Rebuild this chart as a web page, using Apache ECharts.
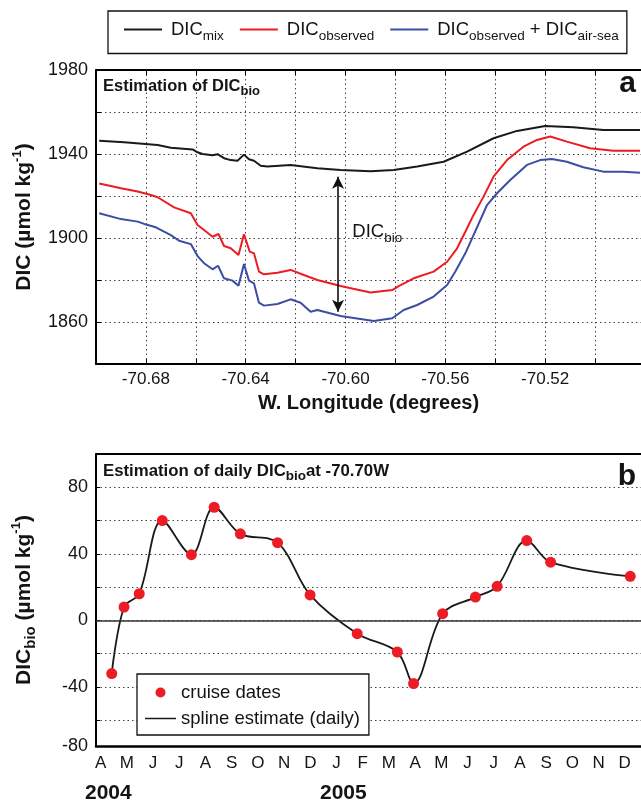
<!DOCTYPE html>
<html><head><meta charset="utf-8">
<script src="https://cdn.jsdelivr.net/npm/echarts@6/dist/echarts.min.js"></script>
<style>html,body{margin:0;padding:0;background:#fff}#c{width:641px;height:804px}</style>
</head><body><div id="c"></div>
<script>
const FONT = '"Liberation Sans", Arial, sans-serif';
const INK = '#141414';

// ---------- Panel a: DIC vs longitude ----------
const mixLon = [-70.6987,-70.6887,-70.6753,-70.670,-70.6613,-70.6593,-70.6573,-70.6533,-70.6513,-70.6487,-70.646,-70.6433,-70.6407,-70.6387,-70.6367,-70.634,-70.6313,-70.622,-70.6113,-70.602,-70.590,-70.5807,-70.5713,-70.5607,-70.5513,-70.5407,-70.5313,-70.520,-70.5087,-70.4967,-70.482];
const mixVal = [1946.3,1945.6,1944.3,1943.0,1942.2,1940.8,1940.0,1939.4,1939.9,1938.0,1937.1,1936.8,1939.7,1937.5,1936.8,1934.4,1934.0,1934.8,1933.2,1932.4,1931.8,1932.4,1934.0,1936.3,1941.1,1947.5,1951.0,1953.3,1952.7,1951.4,1951.4];

const obsLon = [-70.6987,-70.690,-70.6833,-70.678,-70.6753,-70.6687,-70.662,-70.6593,-70.6567,-70.6533,-70.6509,-70.6487,-70.646,-70.6429,-70.6407,-70.6384,-70.6367,-70.6347,-70.6327,-70.6273,-70.622,-70.6167,-70.6113,-70.602,-70.590,-70.5813,-70.5787,-70.5727,-70.5647,-70.5593,-70.5553,-70.552,-70.5487,-70.5447,-70.5407,-70.5353,-70.5287,-70.5233,-70.518,-70.5113,-70.502,-70.4927,-70.482];
const obsVal = [1926.0,1923.7,1922.1,1920.5,1919.4,1914.6,1911.8,1906.2,1903.8,1900.6,1901.9,1896.2,1895.1,1891.9,1901.8,1893.5,1892.7,1884.0,1882.7,1883.5,1884.8,1882.4,1880.0,1877.1,1874.0,1875.2,1877.1,1880.8,1884.0,1888.7,1895.1,1903.0,1911.0,1919.7,1929.2,1937.1,1943.5,1946.7,1948.3,1945.9,1942.7,1941.6,1941.6];

const airLon = [-70.6987,-70.690,-70.6833,-70.6807,-70.676,-70.670,-70.6667,-70.662,-70.6593,-70.6567,-70.6533,-70.6511,-70.6487,-70.6453,-70.6429,-70.6407,-70.6387,-70.6367,-70.6347,-70.6327,-70.6273,-70.622,-70.618,-70.614,-70.6113,-70.602,-70.5887,-70.5813,-70.5767,-70.5713,-70.5647,-70.5593,-70.556,-70.552,-70.5487,-70.5433,-70.5393,-70.534,-70.5273,-70.522,-70.5173,-70.5113,-70.5047,-70.4967,-70.4887,-70.482];
const airVal = [1911.8,1909.0,1907.8,1906.7,1905.1,1901.4,1898.7,1897.1,1891.4,1888.0,1885.1,1886.8,1880.8,1879.7,1877.3,1887.6,1879.7,1878.4,1869.2,1867.8,1868.6,1870.8,1869.2,1864.9,1865.7,1862.9,1860.5,1861.8,1865.7,1868.1,1872.1,1877.6,1884.0,1892.7,1901.4,1915.7,1921.3,1927.6,1934.8,1937.1,1937.6,1936.3,1933.7,1931.6,1931.6,1931.1];

const arrowLon = -70.603;
const arrowEnds = [1929.2, 1864.9];
const bioLabelPos = [-70.5975, 1903];

// ---------- Panel b: daily DIC_bio at -70.70W ----------
// x = months since Jan 2004 (0 = Jan 2004)
const cruiseMonth = [3.42,3.89,4.47,5.35,6.46,7.33,8.33,9.75,10.99,12.79,14.32,14.94,16.05,17.30,18.13,19.26,20.17,23.21];
const cruiseDIC   = [-32,8,16,60,39.5,68,52,46.7,15.3,-8,-19,-38,4,14,20.5,48,35,26.5];
const monthLetters = ['J','F','M','A','M','J','J','A','S','O','N','D'];
const monthTicks = [3,4,5,6,7,8,9,10,11,12,13,14,15,16,17,18,19,20,21,22,23];
const yearLabels = ['2004','2005'];
const yearPos = [3.29, 12.26];
// panel b y axis: gridlines every 20; the bottom frame edge is labelled "-80" in the original
const bYMin = -75.5, bYMax = 100;
const bGridTicks = [-60,-40,-20,0,20,40,60,80];
const bLabelTicks = [bYMin,-40,0,40,80];

const zip = (a, b) => a.map((v, i) => [v, b[i]]);

const dotted = {type: [1.5, 3], color: '#444', width: 1};
const subStyle = (fs, bold) => ({fontSize: fs, fontWeight: bold ? 'bold' : 'normal', fontFamily: FONT, color: INK, verticalAlign: 'bottom', lineHeight: fs});
const LINE_ICON_31x10 = 'path://M0,0L0.01,0L0.01,0.01Z M0,4.3L31,4.3L31,5.7L0,5.7Z M30.99,10L31,10L31,9.99Z';

const chart = echarts.init(document.getElementById('c'));
chart.setOption({
  animation: false,
  backgroundColor: '#fff',
  textStyle: {fontFamily: FONT, color: INK},
  grid: [
    {left: 96, top: 70, height: 294, right: 0},
    {left: 96, top: 454, height: 294, right: 0}
  ],
  legend: [
    {
      data: [
        {name: 'DICmix', icon: 'rect'},
        {name: 'DICobserved', icon: 'rect'},
        {name: 'DICairsea', icon: 'rect'}
      ],
      left: 108, top: 11,
      padding: [9, 8, 10, 16],
      itemWidth: 38, itemHeight: 2, itemGap: 16,
      borderColor: '#111', borderWidth: 1.3, borderRadius: 0,
      selectedMode: false,
      formatter: n => ({
        DICmix: '{f|DIC}{s|mix}',
        DICobserved: '{f|DIC}{s|observed}',
        DICairsea: '{f|DIC}{s|observed}{m| + DIC}{s|air-sea}'
      })[n],
      textStyle: {
        rich: {
          f: {fontSize: 18.5, fontFamily: FONT, color: INK, lineHeight: 28, verticalAlign: 'middle', padding: [0, 0, 0, 4]},
          m: {fontSize: 18.5, fontFamily: FONT, color: INK, lineHeight: 28, verticalAlign: 'middle'},
          s: subStyle(13.5, false)
        }
      }
    },
    {
      data: [{name: 'cruise dates', icon: 'circle'}, {name: 'spline estimate (daily)', icon: LINE_ICON_31x10}],
      orient: 'vertical',
      left: 137, top: 674,
      padding: [9, 9, 7, 8],
      itemWidth: 31, itemHeight: 10, itemGap: 7,
      backgroundColor: '#fff',
      borderColor: '#111', borderWidth: 1.3, borderRadius: 0,
      selectedMode: false,
      textStyle: {fontSize: 18.5, fontFamily: FONT, color: INK}
    }
  ],
  xAxis: [
    {
      gridIndex: 0, type: 'value', min: -70.70, max: -70.4816, interval: 0.02,
      axisLine: {onZero: false, lineStyle: {color: '#000', width: 2}},
      axisTick: {inside: true, length: 5, lineStyle: {color: '#000', width: 1}},
      axisLabel: {
        fontSize: 17, color: INK, margin: 7, showMaxLabel: false,
        formatter: v => (Math.round((v + 70.68) / 0.02) % 2 === 0) ? v.toFixed(2) : ''
      },
      splitLine: {show: true, lineStyle: dotted},
      name: 'W. Longitude (degrees)', nameLocation: 'middle', nameGap: 29,
      nameTextStyle: {fontSize: 20, fontWeight: 'bold', color: INK}
    },
    {
      gridIndex: 0, type: 'value', position: 'top', min: -70.70, max: -70.4816, interval: 0.02,
      axisLine: {onZero: false, lineStyle: {color: '#000', width: 2}},
      axisTick: {inside: true, length: 5, lineStyle: {color: '#000', width: 1}},
      axisLabel: {show: false}, splitLine: {show: false}
    },
    {
      gridIndex: 1, type: 'value', min: 2.82, max: 23.62,
      axisLine: {onZero: false, lineStyle: {color: '#000', width: 2.5}},
      axisTick: {show: false},
      axisLabel: {
        customValues: monthTicks, fontSize: 17, color: INK, margin: 9,
        formatter: v => monthLetters[Math.round(v) % 12]
      },
      splitLine: {show: false}
    },
    {
      gridIndex: 1, type: 'value', min: 2.82, max: 23.62, position: 'bottom', offset: 29,
      axisLine: {show: false}, axisTick: {show: false},
      axisLabel: {
        customValues: yearPos, fontSize: 21, fontWeight: 'bold', color: INK, margin: 8,
        formatter: v => yearLabels[yearPos.indexOf(v)] || ''
      },
      splitLine: {show: false}
    },
    {
      gridIndex: 1, type: 'value', position: 'top', min: 2.82, max: 23.62,
      axisLine: {onZero: false, lineStyle: {color: '#000', width: 2}},
      axisTick: {show: false}, axisLabel: {show: false}, splitLine: {show: false}
    }
  ],
  yAxis: [
    {
      gridIndex: 0, type: 'value', min: 1840, max: 1980, interval: 20,
      axisLine: {show: true, onZero: false, lineStyle: {color: '#000', width: 2}},
      axisTick: {show: true, inside: true, length: 5, lineStyle: {color: '#000', width: 1}},
      axisLabel: {fontSize: 18, color: INK, margin: 8, formatter: v => ((v - 1860) % 40 === 0 ? String(v) : '')},
      splitLine: {show: true, lineStyle: dotted},
      name: 'DIC (µmol kg{sup|-1})', nameLocation: 'middle', nameGap: 47,
      nameTextStyle: {
        fontSize: 21, fontWeight: 'bold', color: INK, lineHeight: 26,
        rich: {sup: {fontSize: 13, fontWeight: 'bold', fontFamily: FONT, color: INK, verticalAlign: 'top', lineHeight: 13}}
      }
    },
    {
      gridIndex: 1, type: 'value', min: bYMin, max: bYMax,
      axisLine: {show: true, onZero: false, lineStyle: {color: '#000', width: 2}},
      axisTick: {show: true, inside: true, length: 4, customValues: bGridTicks, lineStyle: {color: '#000', width: 1}},
      axisLabel: {
        fontSize: 18, color: INK, margin: 8, customValues: bLabelTicks,
        formatter: v => (v === bYMin ? '-80' : String(v))
      },
      splitLine: {show: true, lineStyle: dotted},
      name: 'DIC{sub|bio} (µmol kg{sup|-1})', nameLocation: 'middle', nameGap: 58,
      nameTextStyle: {
        fontSize: 21, fontWeight: 'bold', color: INK, lineHeight: 28,
        rich: {
          sup: {fontSize: 13, fontWeight: 'bold', fontFamily: FONT, color: INK, verticalAlign: 'top', lineHeight: 13},
          sub: {fontSize: 15, fontWeight: 'bold', fontFamily: FONT, color: INK, verticalAlign: 'bottom', lineHeight: 15}
        }
      }
    }
  ],
  series: [
    {
      name: 'DICmix', type: 'line', xAxisIndex: 0, yAxisIndex: 0,
      data: zip(mixLon, mixVal), showSymbol: false, symbol: 'none',
      lineStyle: {color: '#1a1a1a', width: 2}, itemStyle: {color: '#1a1a1a'},
      markLine: {
        silent: true, symbol: ['arrow', 'arrow'], symbolSize: [9, 12], precision: 4,
        label: {show: false},
        lineStyle: {color: '#111', width: 1.6, type: 'solid'},
        data: [[{coord: [arrowLon, arrowEnds[0]]}, {coord: [arrowLon, arrowEnds[1]]}]]
      }
    },
    {
      name: 'DICobserved', type: 'line', xAxisIndex: 0, yAxisIndex: 0,
      data: zip(obsLon, obsVal), showSymbol: false, symbol: 'none',
      lineStyle: {color: '#ec1c24', width: 2}, itemStyle: {color: '#ec1c24'}
    },
    {
      name: 'DICairsea', type: 'line', xAxisIndex: 0, yAxisIndex: 0,
      data: zip(airLon, airVal), showSymbol: false, symbol: 'none',
      lineStyle: {color: '#3a4ea3', width: 2}, itemStyle: {color: '#3a4ea3'}
    },
    {
      name: 'bioLabel', type: 'scatter', xAxisIndex: 0, yAxisIndex: 0,
      data: [bioLabelPos], symbolSize: 1, silent: true,
      itemStyle: {color: 'rgba(0,0,0,0)', opacity: 1},
      label: {
        show: true, position: 'right', distance: 0, color: INK, opacity: 1,
        formatter: '{m|DIC}{s|bio}',
        rich: {
          m: {fontSize: 18.5, fontFamily: FONT, color: INK, lineHeight: 28, verticalAlign: 'middle'},
          s: subStyle(13.5, false)
        }
      }
    },
    {
      name: 'spline estimate (daily)', type: 'line', xAxisIndex: 2, yAxisIndex: 1,
      data: zip(cruiseMonth, cruiseDIC), smooth: 0.35, showSymbol: false, symbol: 'none',
      lineStyle: {color: '#1a1a1a', width: 1.8}, itemStyle: {color: '#1a1a1a'},
      markLine: {
        silent: true, symbol: 'none', label: {show: false},
        lineStyle: {color: '#333', width: 1.5, type: 'solid'},
        data: [{yAxis: 0}]
      }
    },
    {
      name: 'cruise dates', type: 'scatter', xAxisIndex: 2, yAxisIndex: 1,
      data: zip(cruiseMonth, cruiseDIC), symbol: 'circle', symbolSize: 11, z: 5,
      itemStyle: {color: '#ec1c24', opacity: 1}
    }
  ],
  graphic: [
    {
      type: 'text', style: {
        x: 103, y: 86, verticalAlign: 'middle',
        text: '{t|Estimation of DIC}{s|bio}',
        rich: {
          t: {fontSize: 16.5, fontWeight: 'bold', fontFamily: FONT, fill: INK, lineHeight: 24, verticalAlign: 'middle'},
          s: {fontSize: 13, fontWeight: 'bold', fontFamily: FONT, fill: INK, lineHeight: 13, verticalAlign: 'bottom'}
        }
      }
    },
    {
      type: 'text', style: {
        x: 636, y: 84, align: 'right', verticalAlign: 'middle',
        text: 'a', font: 'bold 30px ' + FONT, fill: INK
      }
    },
    {
      type: 'text', style: {
        x: 103, y: 471, verticalAlign: 'middle',
        text: '{t|Estimation of daily DIC}{s|bio}{t|at -70.70W}',
        rich: {
          t: {fontSize: 16.8, fontWeight: 'bold', fontFamily: FONT, fill: INK, lineHeight: 24, verticalAlign: 'middle'},
          s: {fontSize: 13.5, fontWeight: 'bold', fontFamily: FONT, fill: INK, lineHeight: 13.5, verticalAlign: 'bottom'}
        }
      }
    },
    {
      type: 'text', style: {
        x: 636, y: 477, align: 'right', verticalAlign: 'middle',
        text: 'b', font: 'bold 30px ' + FONT, fill: INK
      }
    }
  ]
});
</script>
</body></html>
